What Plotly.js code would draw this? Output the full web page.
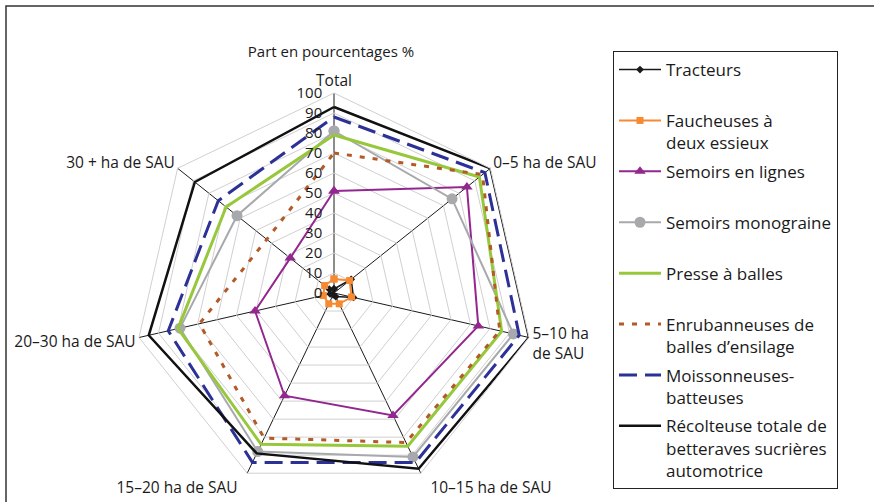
<!DOCTYPE html>
<html>
<head>
<meta charset="utf-8">
<script src="https://cdn.plot.ly/plotly-3.0.1.min.js"></script>
<style>html,body{margin:0;padding:0;background:#fff;}#chart{width:874px;height:502px;}</style>
</head>
<body>
<div id="chart"></div>
<script>
const categories = ["Total", "0–5 ha de SAU", "5–10 ha de SAU", "10–15 ha de SAU", "15–20 ha de SAU", "20–30 ha de SAU", "30 + ha de SAU"];
const categoryLabels = ["Total", "0–5 ha de SAU", "5–10 ha<br>de SAU", "  10–15 ha de SAU", "15–20 ha de SAU  ", "20–30 ha de SAU", "30 + ha de SAU"];
const seriesNames = ["Tracteurs", "Faucheuses à<br>deux essieux", "Semoirs en lignes", "Semoirs monograine", "Presse à balles", "Enrubanneuses de<br>balles d’ensilage", "Moissonneuses-<br>batteuses", "Récolteuse totale de<br>betteraves sucrières<br>automotrice"];
const tracteurs      = [2, 11, 10, 2, 1, 2, 3];
const faucheuses     = [7, 10, 9, 6, 6, 5.5, 6];
const semoirsLignes  = [51, 85, 74, 68, 57, 40.5, 28];
const semoirsMono    = [81, 75.5, 92, 91, 88, 79, 62];
const presse         = [79, 93, 86, 85, 84, 80, 69];
const enrubanneuses  = [70, 95, 85, 83, 80.5, 69, 43];
const moissonneuses  = [88, 96.5, 95, 94, 94, 85, 74];
const recolteuse     = [93, 100, 100, 97.5, 89, 95, 89];
const radialTicks    = [0, 10, 20, 30, 40, 50, 60, 70, 80, 90, 100];

const values = [tracteurs, faucheuses, semoirsLignes, semoirsMono, presse, enrubanneuses, moissonneuses, recolteuse];
const styles = [
  {line: {color: '#1a1a1a', width: 1.5}, mode: 'lines+markers', marker: {symbol: 'diamond', size: 6, color: '#1a1a1a'}},
  {line: {color: '#F58A32', width: 2}, mode: 'lines+markers', marker: {symbol: 'square', size: 7, color: '#F58A32'}},
  {line: {color: '#93278F', width: 2}, mode: 'lines+markers', marker: {symbol: 'triangle-up', size: 10, color: '#93278F'}},
  {line: {color: '#A7A9AC', width: 2}, mode: 'lines+markers', marker: {symbol: 'circle', size: 11, color: '#A7A9AC'}},
  {line: {color: '#97C83C', width: 3}, mode: 'lines'},
  {line: {color: '#B35A28', width: 3, dash: '5px,8px'}, mode: 'lines'},
  {line: {color: '#2B3196', width: 3, dash: '18px,8px'}, mode: 'lines'},
  {line: {color: '#111111', width: 2.5}, mode: 'lines'}
];

function pad(name) {
  const n = name.split('<br>').length;
  return n < 2 ? name + '<br> ' : name;
}

const traces = values.map((v, i) => Object.assign({
  type: 'scatterpolar',
  r: v.concat([v[0]]),
  theta: categories.concat([categories[0]]),
  name: pad(seriesNames[i]),
  legendgroup: 'g' + i,
  cliponaxis: false
}, styles[i]));

const layout = {
  width: 874, height: 502,
  margin: {l: 0, r: 0, t: 0, b: 0},
  paper_bgcolor: '#ffffff',
  font: {family: 'Open Sans, Noto Sans, sans-serif', color: '#1a1a1a', size: 15},
  title: {text: 'Part en pourcentages %', x: 331/874, xanchor: 'center', y: 1 - 52/502, yanchor: 'middle', font: {size: 15, color: '#1a1a1a'}},
  showlegend: true,
  legend: {
    x: 613/874, y: 1 - 51/502, xanchor: 'left', yanchor: 'top',
    bordercolor: '#222', borderwidth: 1, bgcolor: '#fff',
    font: {size: 17, color: '#1a1a1a'},
    valign: 'top', traceorder: 'grouped', tracegroupgap: 3.7, itemwidth: 42
  },
  polar: {
    domain: {x: [134/874, 534/874], y: [1 - 493/502, 1 - 93/502]},
    gridshape: 'linear',
    bgcolor: 'rgba(0,0,0,0)',
    radialaxis: {
      range: [0, 100], tickvals: radialTicks, ticktext: radialTicks.map(String),
      angle: 90, side: 'counterclockwise', tickangle: 90,
      showline: false, gridcolor: '#d0d0d0', gridwidth: 1,
      ticks: 'outside', ticklen: 6, tickcolor: 'rgba(0,0,0,0)',
      tickfont: {size: 15, color: '#1a1a1a'}
    },
    angularaxis: {
      direction: 'clockwise', rotation: 90, type: 'category',
      categoryarray: categories,
      tickmode: 'array', tickvals: categories, ticktext: categoryLabels,
      showline: true, linecolor: '#d0d0d0', linewidth: 1,
      gridcolor: '#1a1a1a', gridwidth: 1,
      ticks: '', tickfont: {size: 15.5, color: '#1a1a1a'}
    }
  },
  shapes: [
    {type: 'rect', xref: 'paper', yref: 'paper', x0: 6/874, x1: 1.02, y0: -0.02, y1: 1 - 6/502, line: {color: '#333', width: 1.5}, fillcolor: 'rgba(0,0,0,0)', layer: 'below'}
  ]
};

Plotly.newPlot('chart', traces, layout, {displayModeBar: false, staticPlot: true});
</script>
</body>
</html>
